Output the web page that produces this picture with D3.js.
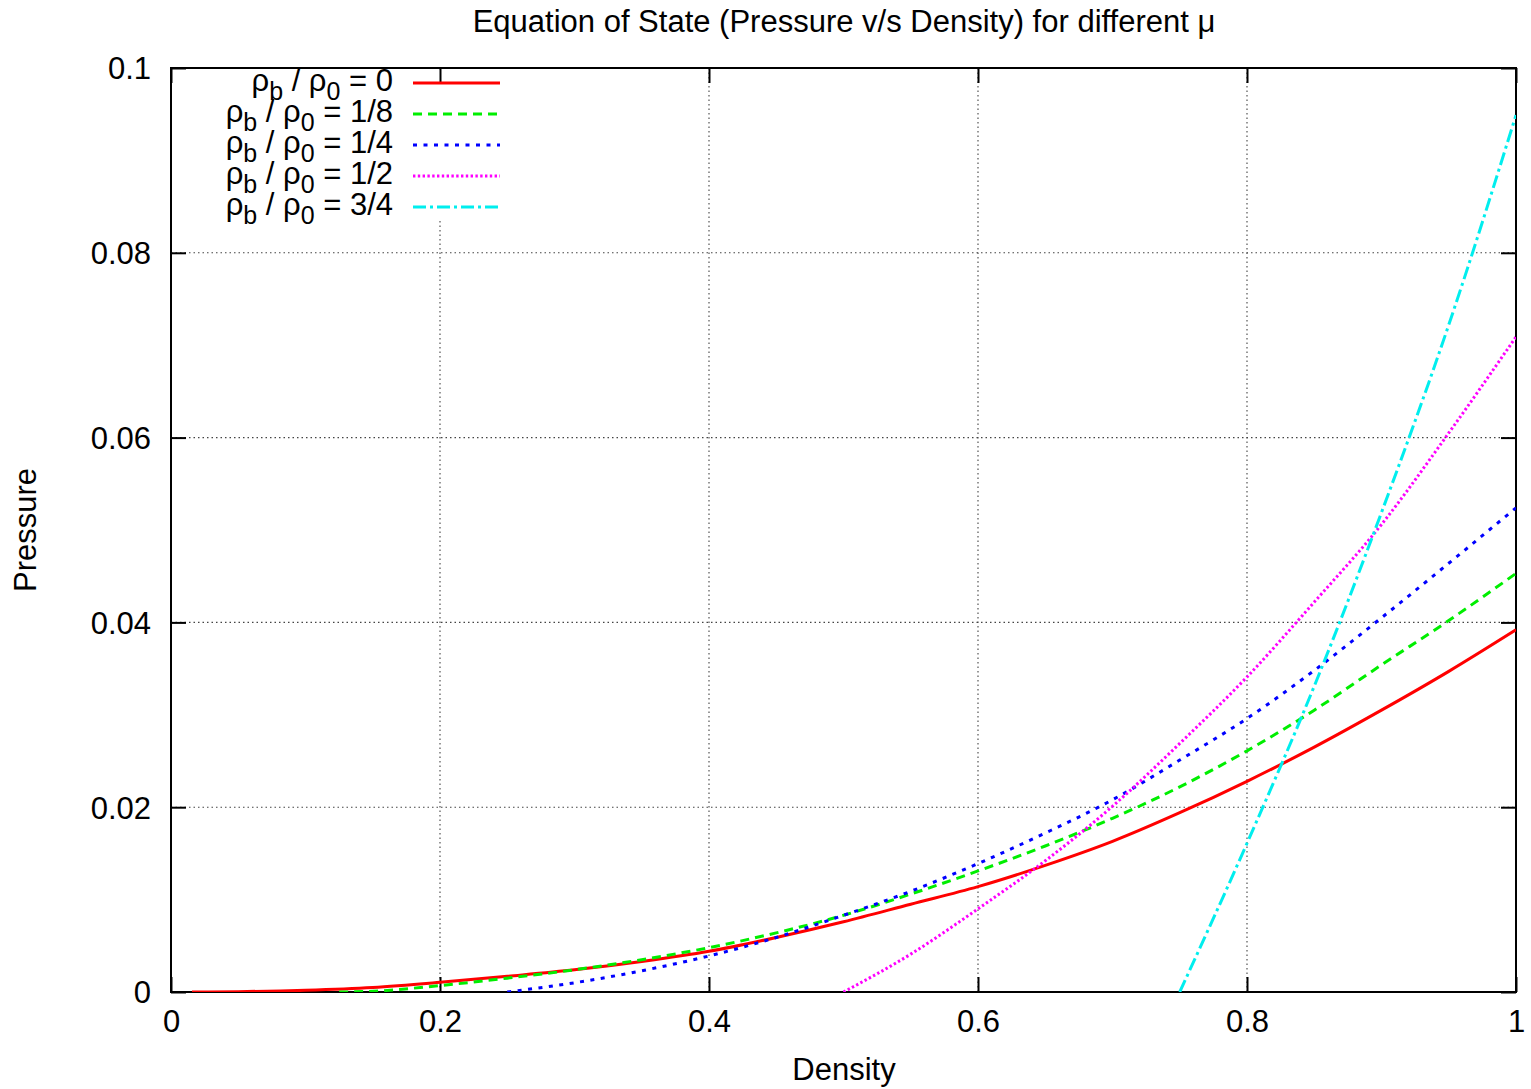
<!DOCTYPE html>
<html>
<head>
<meta charset="utf-8">
<script src="https://cdn.jsdelivr.net/npm/d3@7"></script>
<style>
  html, body { margin: 0; padding: 0; background: #fff; }
  svg { display: block; font-family: "Liberation Sans", Arial, Helvetica, sans-serif; }
</style>
</head>
<body>
<svg id="chart" width="1531" height="1089"></svg>
<script>
// Equation of state curves: pressure against density for several ρb/ρ0 ratios
const densityR0   = [0.0156, 0.05, 0.1, 0.15, 0.2, 0.25, 0.3, 0.35, 0.4, 0.45, 0.5, 0.55, 0.6, 0.65, 0.7, 0.75, 0.8, 0.85, 0.9, 0.95, 1.0];
const pressureR0  = [0, 0.00004, 0.0002, 0.0005, 0.00105, 0.0017, 0.0024, 0.0033, 0.0044, 0.0059, 0.0076, 0.0095, 0.0114, 0.0137, 0.0163, 0.0194, 0.0228, 0.0265, 0.0305, 0.0347, 0.0392];

const densityR18  = [0.125, 0.15, 0.2, 0.25, 0.3, 0.35, 0.4, 0.45, 0.5, 0.55, 0.6, 0.65, 0.7, 0.75, 0.8, 0.85, 0.9, 0.95, 1.0];
const pressureR18 = [0, 0.00008, 0.0007, 0.0015, 0.0024, 0.0035, 0.0048, 0.0064, 0.0083, 0.0106, 0.0131, 0.0158, 0.0188, 0.0222, 0.0261, 0.0305, 0.0354, 0.0402, 0.0453];

const densityR14  = [0.25, 0.3, 0.35, 0.4, 0.45, 0.5, 0.55, 0.6, 0.65, 0.7, 0.75, 0.8, 0.85, 0.9, 0.95, 1.0];
const pressureR14 = [0, 0.0010, 0.0023, 0.0039, 0.0059, 0.0083, 0.0109, 0.0139, 0.0172, 0.0208, 0.0251, 0.0296, 0.0348, 0.0405, 0.0464, 0.0524];

const densityR12  = [0.5, 0.55, 0.6, 0.65, 0.7, 0.75, 0.8, 0.85, 0.9, 0.95, 1.0];
const pressureR12 = [0, 0.0041, 0.0090, 0.0142, 0.0201, 0.0269, 0.0341, 0.0422, 0.0506, 0.0605, 0.0709];

const densityR34  = [0.75, 0.8, 0.85, 0.9, 0.95, 1.0];
const pressureR34 = [0, 0.0161, 0.0331, 0.0519, 0.0722, 0.0949];

const seriesLabels = ["0", "1/8", "1/4", "1/2", "3/4"];
const xTicks = [0, 0.2, 0.4, 0.6, 0.8, 1];
const xTickLabels = ["0", "0.2", "0.4", "0.6", "0.8", "1"];
const yTicks = [0, 0.02, 0.04, 0.06, 0.08, 0.1];
const yTickLabels = ["0", "0.02", "0.04", "0.06", "0.08", "0.1"];

const seriesStyles = [
  { color: "#ff0000", dash: null },
  { color: "#00ee00", dash: "9,6" },
  { color: "#0000ff", dash: "4,6.5" },
  { color: "#ff00ff", dash: "2.4,2.4" },
  { color: "#00eeee", dash: "13,4,3,4" }
];

const series = [
  [densityR0, pressureR0],
  [densityR18, pressureR18],
  [densityR14, pressureR14],
  [densityR12, pressureR12],
  [densityR34, pressureR34]
].map(([xs, ys], i) => ({
  label: seriesLabels[i],
  points: xs.map((d, j) => ({ d, p: ys[j] })),
  ...seriesStyles[i]
}));

const fontSize = 31;
const svg = d3.select("#chart");
const plotLeft = 171, plotRight = 1516, plotTop = 68, plotBottom = 992;

const x = d3.scaleLinear().domain([0, 1]).range([plotLeft, plotRight]);
const y = d3.scaleLinear().domain([0, 0.1]).range([plotBottom, plotTop]);

// Grid
const grid = svg.append("g").attr("stroke", "#444").attr("stroke-width", 1.1).attr("stroke-dasharray", "1.5,3");
grid.selectAll("line.gx").data(xTicks.slice(1, -1)).join("line").attr("class", "gx")
  .attr("x1", d => x(d)).attr("x2", d => x(d)).attr("y1", plotTop).attr("y2", plotBottom);
grid.selectAll("line.gy").data(yTicks.slice(1, -1)).join("line").attr("class", "gy")
  .attr("y1", d => y(d)).attr("y2", d => y(d)).attr("x1", plotLeft).attr("x2", plotRight);

// Key area background hides the grid behind it
svg.append("rect").attr("x", plotLeft + 2).attr("y", plotTop + 2).attr("width", 340).attr("height", 150).attr("fill", "#fff");

// Axes with inward ticks, mirrored on the opposite sides
const tickLen = 15;
const axisBottom = d3.axisBottom(x).tickValues(xTicks).tickSize(-tickLen).tickPadding(20)
  .tickFormat((d, i) => xTickLabels[i]);
const axisTop = d3.axisTop(x).tickValues(xTicks).tickSize(-tickLen).tickFormat("");
const axisLeft = d3.axisLeft(y).tickValues(yTicks).tickSize(-tickLen).tickPadding(20)
  .tickFormat((d, i) => yTickLabels[i]);
const axisRight = d3.axisRight(y).tickValues(yTicks).tickSize(-tickLen).tickFormat("");

function styleAxis(g) {
  g.select(".domain").remove();
  g.selectAll(".tick line").attr("stroke", "#000").attr("stroke-width", 2);
  g.selectAll(".tick text").attr("fill", "#000").attr("font-size", fontSize)
    .attr("font-family", "Liberation Sans, Arial, sans-serif");
}
svg.append("g").attr("transform", `translate(0,${plotBottom})`).call(axisBottom).call(styleAxis)
  .selectAll(".tick text").attr("dy", "0.66em");
svg.append("g").attr("transform", `translate(0,${plotTop})`).call(axisTop).call(styleAxis);
svg.append("g").attr("transform", `translate(${plotLeft},0)`).call(axisLeft).call(styleAxis)
  .selectAll(".tick text").attr("dy", "0.35em");
svg.append("g").attr("transform", `translate(${plotRight},0)`).call(axisRight).call(styleAxis);

// Frame
svg.append("rect").attr("x", plotLeft).attr("y", plotTop).attr("width", plotRight - plotLeft).attr("height", plotBottom - plotTop)
  .attr("fill", "none").attr("stroke", "#000").attr("stroke-width", 2);

// Curves
svg.append("clipPath").attr("id", "plot-clip").append("rect")
  .attr("x", plotLeft).attr("y", plotTop).attr("width", plotRight - plotLeft).attr("height", plotBottom - plotTop);
const line = d3.line().x(d => x(d.d)).y(d => y(d.p)).curve(d3.curveMonotoneX);
svg.append("g").attr("clip-path", "url(#plot-clip)")
  .selectAll("path").data(series).join("path")
  .attr("d", s => line(s.points))
  .attr("fill", "none")
  .attr("stroke", s => s.color)
  .attr("stroke-width", 3)
  .attr("stroke-dasharray", s => s.dash);

// Key: labels use subscripts for ρb and ρ0
const key = svg.append("g");
const keyRowY = i => 91 + i * 31;
const subSize = 25;
series.forEach((s, i) => {
  const t = key.append("text").attr("x", 393).attr("y", keyRowY(i)).attr("text-anchor", "end")
    .attr("font-size", fontSize).attr("fill", "#000");
  t.append("tspan").text("ρ");
  t.append("tspan").attr("dy", 9).attr("font-size", subSize).text("b");
  t.append("tspan").attr("dy", -9).text(" / ρ");
  t.append("tspan").attr("dy", 9).attr("font-size", subSize).text("0");
  t.append("tspan").attr("dy", -9).text(" = " + s.label);
  key.append("line").attr("x1", 413).attr("x2", 500)
    .attr("y1", keyRowY(i) - 8).attr("y2", keyRowY(i) - 8)
    .attr("stroke", s.color).attr("stroke-width", 3).attr("stroke-dasharray", s.dash);
});

// Titles
svg.append("text").attr("x", 844).attr("y", 32).attr("text-anchor", "middle").attr("font-size", fontSize)
  .text("Equation of State (Pressure v/s Density) for different μ");
svg.append("text").attr("x", 844).attr("y", 1080).attr("text-anchor", "middle").attr("font-size", fontSize)
  .text("Density");
svg.append("text").attr("transform", "translate(36,530) rotate(-90)").attr("text-anchor", "middle").attr("font-size", fontSize)
  .text("Pressure");
</script>
</body>
</html>
